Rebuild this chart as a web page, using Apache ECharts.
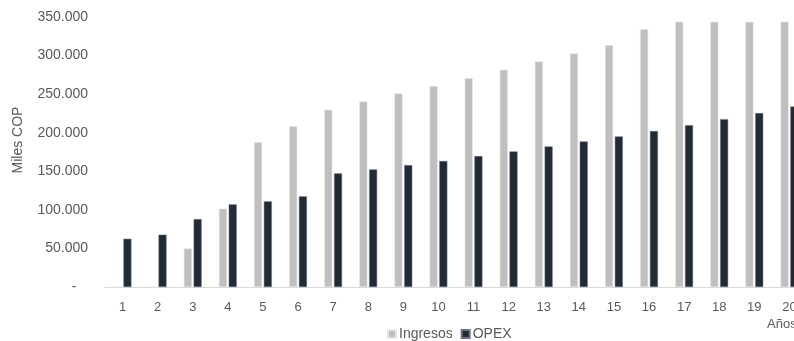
<!DOCTYPE html>
<html>
<head>
<meta charset="utf-8">
<script src="https://cdn.jsdelivr.net/npm/echarts@6/dist/echarts.min.js"></script>
<style>
  html, body { margin: 0; padding: 0; background: #fff; }
  #chart { width: 794px; height: 341px; }
</style>
</head>
<body>
<div id="chart"></div>
<script>
// Years of the projection
const years = ['1','2','3','4','5','6','7','8','9','10','11','12','13','14','15','16','17','18','19','20'];
// Revenue per year (thousands of COP)
const ingresos = [0, 0, 50000, 101500, 187500, 208500, 229700, 240500, 250800, 260400,
                  270700, 281500, 292300, 302700, 313500, 334200, 343700, 343700, 343700, 343700];
// Operating expenses per year (thousands of COP)
const opex = [62500, 67800, 88000, 107100, 111000, 117500, 147300, 152400, 158000, 163200,
              169700, 175700, 182200, 188700, 195200, 202100, 209800, 217600, 225400, 234000];

const font = 'Liberation Sans';
const textGray = '#595959';

function fmt(v) {
  if (v === 0) return '-   ';
  return String(v).replace(/\B(?=(\d{3})+(?!\d))/g, '.');
}

const chart = echarts.init(document.getElementById('chart'));
chart.setOption({
  animation: false,
  // plot area runs past the right edge of the canvas
  grid: { left: 105, width: 702, top: 17, bottom: 54, outerBoundsMode: 'none', containLabel: false },
  legend: {
    left: 387, top: 327, padding: 0,
    itemWidth: 8, itemHeight: 8, itemGap: 8,
    icon: 'rect',
    textStyle: { fontFamily: font, fontSize: 14, color: textGray, padding: [0, 0, 0, -2] },
    data: ['Ingresos', 'OPEX']
  },
  graphic: [
    {
      type: 'text', left: 767, top: 318,
      style: { text: 'Años', fontFamily: font, fontSize: 13, fill: textGray }
    },
    {
      type: 'text', x: 18, y: 140, rotation: Math.PI / 2,
      style: { text: 'Miles COP', fontFamily: font, fontSize: 14, fill: textGray,
               align: 'center', verticalAlign: 'middle' }
    }
  ],
  xAxis: {
    type: 'category',
    data: years,
    axisLine: { lineStyle: { color: '#d9d9d9', width: 1 } },
    axisTick: { show: false },
    axisLabel: { fontFamily: font, fontSize: 13, color: textGray, margin: 14 }
  },
  yAxis: {
    type: 'value',
    min: 0, max: 350000, interval: 50000,
    splitLine: { show: false },
    axisLine: { show: false },
    axisTick: { show: false },
    axisLabel: { fontFamily: font, fontSize: 14, color: textGray, margin: 17, formatter: fmt }
  },
  series: [
    {
      name: 'Ingresos', type: 'bar', data: ingresos,
      barWidth: 8, barGap: '22%',
      itemStyle: { color: '#bfbfbf', borderColor: '#e6e6e6', borderWidth: 0.5 }
    },
    {
      name: 'OPEX', type: 'bar', data: opex,
      barWidth: 8,
      itemStyle: { color: '#222a35', borderColor: '#6b7280', borderWidth: 0.5 }
    }
  ]
});
</script>
</body>
</html>
